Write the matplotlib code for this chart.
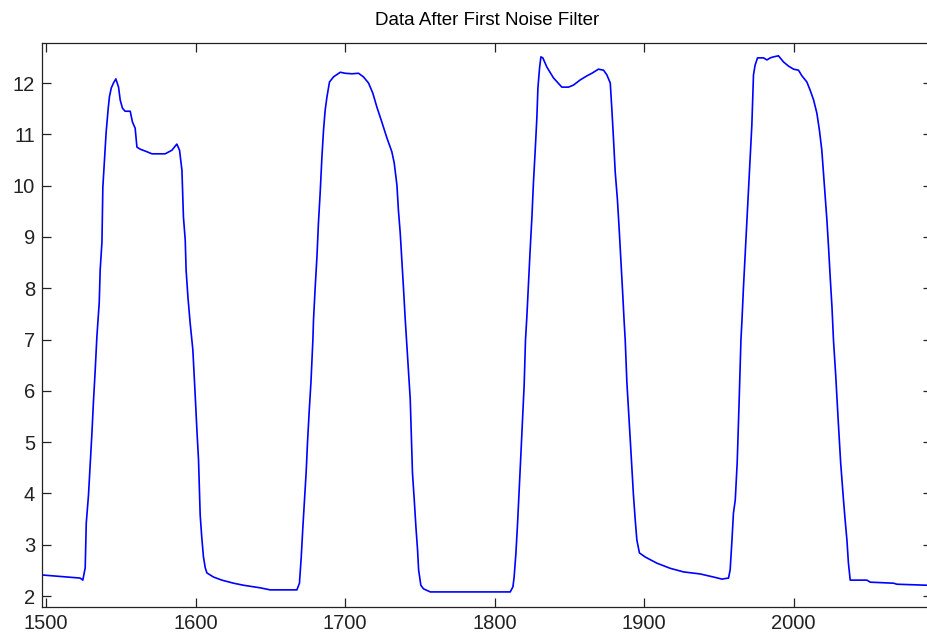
import matplotlib
matplotlib.use("Agg")
import matplotlib.pyplot as plt

plt.rcParams['font.family'] = ['Liberation Sans', 'DejaVu Sans']

# 读取自图中的采样点
x_vals = [
    1497.3, 1522.7, 1524.5, 1526.1, 1526.8, 1528.3, 1529.4, 1530.6, 1531.6, 1532.8,
    1533.9, 1535.5, 1536.1, 1537.3, 1537.9, 1539.0, 1540.1, 1541.5, 1542.3, 1543.5,
    1545.0, 1546.6, 1548.4, 1549.5, 1551.0, 1552.8, 1556.2, 1557.7, 1559.5, 1560.7,
    1562.9, 1567.4, 1570.7, 1579.6, 1584.1, 1587.4, 1589.2, 1590.8, 1591.8, 1593.0,
    1593.6, 1594.8, 1596.3, 1598.1, 1599.0, 1599.9, 1600.8, 1601.9, 1603.0, 1604.1,
    1605.2, 1606.4, 1607.5, 1611.9, 1617.5, 1625.3, 1632.0, 1638.7, 1643.1, 1649.8,
    1667.7, 1669.4, 1670.6, 1671.7, 1672.8, 1673.9, 1674.8, 1675.9, 1677.1, 1678.4,
    1678.8, 1679.9, 1681.1, 1682.1, 1683.3, 1684.4, 1685.5, 1686.6, 1687.8, 1689.5,
    1692.2, 1696.7, 1700.0, 1704.5, 1708.9, 1712.2, 1715.6, 1718.5, 1721.2, 1724.5,
    1727.9, 1731.2, 1732.8, 1734.6, 1735.6, 1736.8, 1737.9, 1739.0, 1740.1, 1741.3,
    1742.3, 1743.5, 1744.1, 1745.0, 1746.2, 1747.3, 1748.4, 1749.1, 1750.6, 1752.4,
    1756.9, 1810.4, 1812.2, 1813.0, 1814.2, 1815.3, 1816.4, 1817.5, 1818.6, 1819.7,
    1820.6, 1821.5, 1822.6, 1823.7, 1824.9, 1825.9, 1827.1, 1828.2, 1828.9, 1830.0,
    1830.9, 1832.2, 1834.9, 1839.3, 1844.9, 1849.4, 1852.7, 1857.2, 1861.7, 1865.0,
    1869.4, 1872.8, 1875.0, 1877.3, 1878.4, 1879.5, 1880.6, 1882.1, 1883.3, 1884.4,
    1885.5, 1886.6, 1887.3, 1888.4, 1889.5, 1890.6, 1891.7, 1892.8, 1894.0, 1895.1,
    1896.8, 1900.7, 1908.5, 1917.4, 1926.3, 1937.5, 1946.4, 1952.0, 1956.4, 1957.5,
    1958.7, 1959.7, 1960.9, 1962.2, 1963.5, 1964.7, 1965.4, 1966.4, 1967.6, 1968.7,
    1969.8, 1970.9, 1972.0, 1973.1, 1974.2, 1975.8, 1979.8, 1982.1, 1984.3, 1986.5,
    1989.8, 1993.2, 1996.5, 1999.9, 2003.2, 2005.5, 2008.8, 2011.0, 2013.3, 2015.5,
    2017.2, 2018.8, 2019.9, 2021.1, 2022.2, 2023.3, 2024.4, 2025.6, 2026.6, 2028.1,
    2029.8, 2031.4, 2033.3, 2034.4, 2035.6, 2036.6, 2037.8, 2048.9, 2051.2, 2066.8,
    2069.0, 2089.3,
]
y_vals = [
    2.41, 2.35, 2.31, 2.55, 3.42, 3.97, 4.55, 5.18, 5.78, 6.41,
    7.05, 7.73, 8.35, 8.90, 9.97, 10.50, 11.04, 11.51, 11.73, 11.90,
    12.00, 12.08, 11.92, 11.67, 11.51, 11.45, 11.45, 11.24, 11.12, 10.75,
    10.71, 10.66, 10.62, 10.62, 10.69, 10.81, 10.69, 10.30, 9.39, 8.94,
    8.35, 7.83, 7.32, 6.80, 6.31, 5.78, 5.24, 4.65, 3.58, 3.13,
    2.76, 2.55, 2.45, 2.37, 2.31, 2.25, 2.21, 2.18, 2.16, 2.12,
    2.12, 2.25, 2.76, 3.35, 3.87, 4.42, 5.00, 5.59, 6.17, 7.00,
    7.38, 8.00, 8.61, 9.27, 9.88, 10.54, 11.08, 11.47, 11.73, 12.02,
    12.12, 12.21, 12.19, 12.18, 12.19, 12.12, 12.00, 11.80, 11.53, 11.24,
    10.93, 10.66, 10.44, 10.01, 9.52, 9.08, 8.55, 8.00, 7.42, 6.85,
    6.37, 5.84, 5.24, 4.40, 3.87, 3.35, 2.90, 2.51, 2.21, 2.14,
    2.08, 2.08, 2.18, 2.37, 2.84, 3.42, 4.07, 4.75, 5.43, 6.11,
    6.99, 7.44, 8.10, 8.74, 9.39, 10.05, 10.69, 11.32, 11.90, 12.29,
    12.51, 12.49, 12.31, 12.10, 11.92, 11.92, 11.96, 12.06, 12.14, 12.19,
    12.27, 12.25, 12.16, 12.00, 11.47, 10.89, 10.27, 9.72, 9.13, 8.55,
    7.96, 7.34, 6.99, 6.17, 5.63, 5.08, 4.51, 3.97, 3.48, 3.09,
    2.84, 2.76, 2.64, 2.54, 2.47, 2.43, 2.37, 2.33, 2.35, 2.51,
    3.09, 3.62, 3.87, 4.60, 5.80, 6.99, 7.38, 8.02, 8.69, 9.29,
    9.91, 10.56, 11.18, 12.16, 12.35, 12.49, 12.49, 12.45, 12.49, 12.51,
    12.53, 12.41, 12.33, 12.27, 12.25, 12.14, 12.02, 11.86, 11.67, 11.41,
    11.08, 10.69, 10.25, 9.78, 9.33, 8.80, 8.22, 7.63, 6.99, 6.30,
    5.40, 4.60, 3.87, 3.48, 3.09, 2.64, 2.31, 2.31, 2.27, 2.25,
    2.23, 2.21,
]

x_ticks = [1500, 1600, 1700, 1800, 1900, 2000]
y_ticks = [2, 3, 4, 5, 6, 7, 8, 9, 10, 11, 12]
title = 'Data After First Noise Filter'

fig = plt.figure(figsize=(9.27, 6.39), dpi=100)
# 右边框落在图像外（与原图一致）
ax = fig.add_axes([42 / 927, 32 / 639, 890 / 927, 564 / 639])

ax.plot(x_vals, y_vals, color='#0000ff', lw=1.2)

ax.set_xlim(1497.2, 2092.5)
ax.set_ylim(1.786, 12.78)
ax.set_xticks(x_ticks)
ax.set_yticks(y_ticks)
ax.tick_params(direction='in', top=True, right=True, length=6.5, width=0.9,
               labelsize=14.5, pad=5, colors='#222222')
for s in ax.spines.values():
    s.set_linewidth(0.9)
    s.set_color('#222222')

ax.set_title(title, fontsize=13.5, pad=13)

fig.savefig('out.png', dpi=100)
